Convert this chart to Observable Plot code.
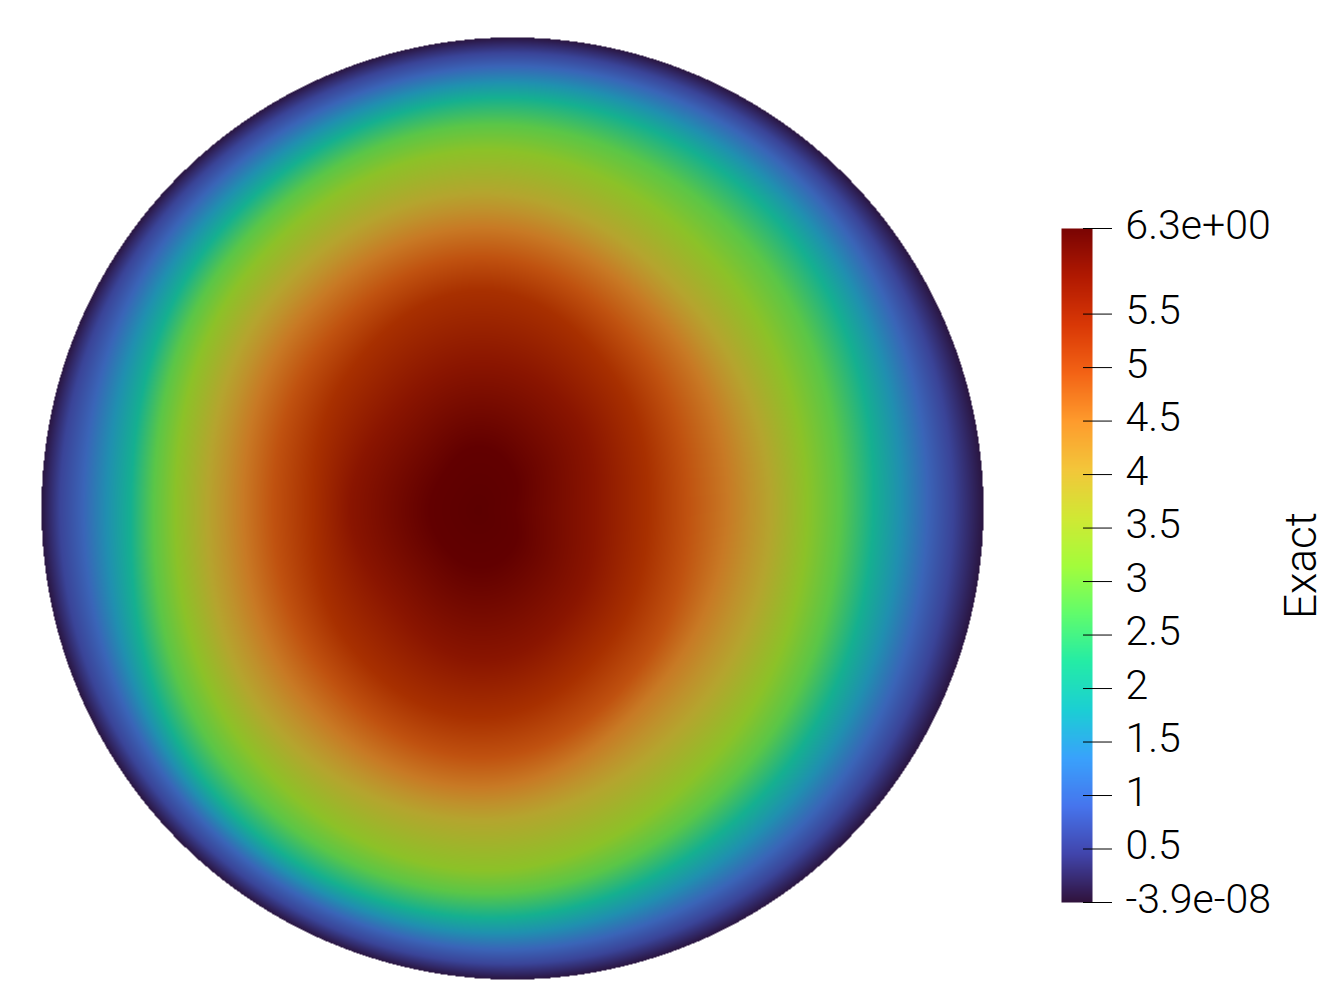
<!DOCTYPE html>
<html>
<head>
<meta charset="utf-8">
<script src="https://cdn.jsdelivr.net/npm/d3@7"></script>
<script src="https://cdn.jsdelivr.net/npm/@observablehq/plot@0.6"></script>
<style>
html,body{margin:0;padding:0;background:#fff}
#row{display:flex;width:1334px;height:994px;overflow:hidden}
#row svg{display:block;flex:none;max-width:none}
</style>
</head>
<body>
<div id="row"></div>
<script>
// Field: for each ray out of the peak, the fraction of the
// way to the disc's rim at which each value is reached.
const peak = [-0.072, -0.004];
const rays = ["E", "NE", "N", "NW", "W", "SW", "S", "SE"];
const levels = [6.3, 6.2, 5.85, 5.5, 5, 4.4, 3.65, 3, 2, 1, 0.5, 0];
const rayE  = [0, 0.07, 0.228, 0.335, 0.414, 0.493, 0.578, 0.651, 0.782, 0.889, 0.94, 1];
const rayNE = [0, 0.10, 0.27, 0.385, 0.46, 0.53, 0.60, 0.69, 0.84, 0.93, 0.962, 1];
const rayN  = [0, 0.133, 0.31, 0.466, 0.536, 0.6, 0.672, 0.763, 0.873, 0.939, 0.968, 1];
const rayNW = [0, 0.11, 0.285, 0.42, 0.505, 0.58, 0.66, 0.74, 0.846, 0.93, 0.965, 1];
const rayW  = [0, 0.11, 0.293, 0.378, 0.469, 0.538, 0.62, 0.693, 0.796, 0.904, 0.958, 1];
const raySW = [0, 0.11, 0.28, 0.417, 0.50, 0.575, 0.665, 0.745, 0.867, 0.93, 0.965, 1];
const rayS  = [0, 0.12, 0.32, 0.442, 0.528, 0.592, 0.662, 0.769, 0.87, 0.937, 0.968, 1];
const raySE = [0, 0.10, 0.27, 0.375, 0.458, 0.51, 0.60, 0.69, 0.815, 0.915, 0.955, 1];
const rayTable = [rayE, rayNE, rayN, rayNW, rayW, raySW, rayS, raySE];

// Colours of the shaded disc, by value
const discStops = [0, 0.25, 0.5, 1, 1.5, 2, 2.5, 3, 3.65, 4, 4.4, 5, 5.5, 5.85, 6.2, 6.3];
const discColors = ["#2a1540", "#332c6e", "#3a4498", "#3a65b8", "#2090b0", "#15b090", "#5ac648", "#8cc228",
  "#b5a52e", "#bf922c", "#c87a25", "#c05210", "#a83000", "#8a1500", "#620000", "#5c0000"];

// Colour bar
const barDomain = [0, 0.45, 0.9, 1.35, 1.8, 2.25, 2.7, 3.15, 3.6, 4.05, 4.5, 4.95, 5.4, 5.85, 6.3];
const barColors = ["#30123b", "#4145ab", "#4675ed", "#39a2fc", "#1bcfd4", "#24eca6", "#61fc6c",
  "#a4fc3b", "#d1e834", "#f3c63a", "#fe9b2d", "#f36315", "#d93806", "#b11901", "#7a0403"];
const tickValues = [-3.9e-8, 0.5, 1, 1.5, 2, 2.5, 3, 3.5, 4, 4.5, 5, 5.5, 6.3];
const tickLabels = ["-3.9e-08", "0.5", "1", "1.5", "2", "2.5", "3", "3.5", "4", "4.5", "5", "5.5", "6.3e+00"];
const barTitle = "Exact";
const FONT = "Roboto";

function catmull(a, b, c, d, u) {
  return 0.5 * (2 * b + (c - a) * u + (2 * a - 5 * b + 4 * c - d) * u * u + (3 * b - a - 3 * c + d) * u * u * u);
}
function field(x, y) {
  if (x * x + y * y > 1) return NaN;
  const dx = x - peak[0], dy = y - peak[1], r = Math.hypot(dx, dy);
  if (r === 0) return levels[0];
  const ux = dx / r, uy = dy / r;
  const b = peak[0] * ux + peak[1] * uy;
  const R = -b + Math.sqrt(b * b - (peak[0] ** 2 + peak[1] ** 2 - 1));
  const t = r / R;
  const n = rays.length;
  const a = ((Math.atan2(dy, dx) / (2 * Math.PI)) + 1) % 1 * n;
  const i = Math.floor(a), u = a - i;
  const T = levels.map((_, k) => catmull(
    rayTable[(i + n - 1) % n][k], rayTable[i % n][k], rayTable[(i + 1) % n][k], rayTable[(i + 2) % n][k], u));
  for (let k = 1; k < T.length; k++) {
    if (t <= T[k]) return levels[k - 1] + (levels[k] - levels[k - 1]) * (t - T[k - 1]) / (T[k] - T[k - 1]);
  }
  return 0;
}

const disc = Plot.plot({
  width: 1040, height: 994,
  marginLeft: 41, marginRight: 57, marginTop: 37, marginBottom: 15,
  x: {domain: [-1, 1], axis: null},
  y: {domain: [-1, 1], axis: null},
  color: {type: "linear", domain: discStops, range: discColors},
  marks: [
    Plot.raster({fill: field, x1: -1, x2: 1, y1: -1, y2: 1, pixelSize: 1})
  ]
});

const legend = Plot.plot({
  width: 294, height: 994,
  marginLeft: 21, marginRight: 242, marginTop: 228, marginBottom: 92,
  style: {fontFamily: FONT, background: "transparent"},
  x: {domain: [0, 1], axis: null},
  y: {domain: [tickValues[0], 6.3], axis: null},
  color: {type: "linear", domain: barDomain, range: barColors},
  marks: [
    Plot.raster({fill: (x, y) => y, x1: 0, x2: 1, y1: tickValues[0], y2: 6.3, pixelSize: 1}),
    Plot.ruleY(tickValues, {x1: 0.71, x2: 1.645, stroke: "#000", strokeWidth: 1}),
    Plot.axisY({
      anchor: "right", ticks: tickValues, tickSize: 0, tickPadding: 33,
      tickFormat: (d) => tickLabels[tickValues.indexOf(d)],
      label: null, dy: -3, fontSize: 41, fontWeight: 300, fill: "#000"
    }),
    Plot.text([barTitle], {
      x: [7.77], y: [3.15], text: (d) => d, rotate: -90, textAnchor: "middle", fontSize: 44, fontWeight: 300, fill: "#000"
    })
  ]
});

document.getElementById("row").append(disc, legend);
</script>
</body>
</html>
